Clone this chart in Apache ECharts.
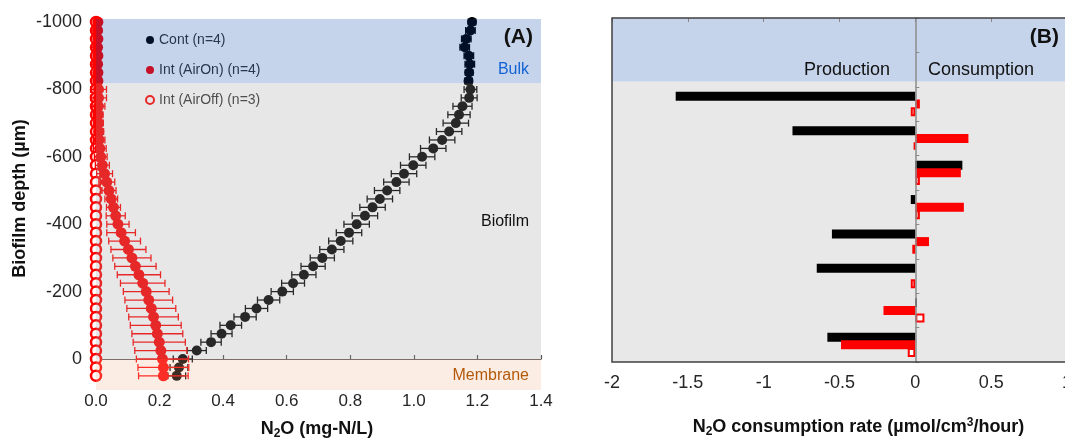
<!DOCTYPE html>
<html>
<head>
<meta charset="utf-8">
<script src="https://cdn.jsdelivr.net/npm/echarts@6/dist/echarts.min.js"></script>
<style>
html,body{margin:0;padding:0;background:#fff;}
#chart{width:1065px;height:439px;}
</style>
</head>
<body>
<div id="chart"></div>
<script>
// ---------- Panel A data ----------
const depths = [-1000,-975,-950,-925,-900,-875,-850,-825,-800,-775,-750,-725,-700,-675,-650,-625,-600,-575,-550,-525,-500,-475,-450,-425,-400,-375,-350,-325,-300,-275,-250,-225,-200,-175,-150,-125,-100,-75,-50,-25,0,25,50];
const contN2O = [1.183,1.178,1.165,1.160,1.173,1.176,1.174,1.172,1.178,1.174,1.153,1.142,1.132,1.111,1.089,1.061,1.026,0.998,0.969,0.945,0.916,0.893,0.870,0.846,0.820,0.796,0.770,0.742,0.712,0.683,0.654,0.620,0.586,0.543,0.505,0.469,0.424,0.395,0.362,0.317,0.273,0.261,0.254];
const contErr = [0.012,0.015,0.015,0.015,0.015,0.015,0.012,0.012,0.020,0.025,0.030,0.035,0.040,0.040,0.040,0.040,0.040,0.040,0.040,0.040,0.040,0.040,0.040,0.040,0.040,0.040,0.038,0.038,0.038,0.038,0.038,0.036,0.035,0.035,0.035,0.035,0.034,0.033,0.032,0.030,0.030,0.028,0.028];
const airOnN2O = [0.006,0.005,0.006,0.005,0.006,0.005,0.006,0.006,0.008,0.008,0.008,0.007,0.008,0.009,0.010,0.012,0.015,0.020,0.027,0.034,0.041,0.048,0.055,0.062,0.069,0.079,0.090,0.102,0.113,0.124,0.135,0.147,0.158,0.166,0.174,0.181,0.188,0.193,0.199,0.204,0.209,0.212,0.212];
const airOnErr = [0.004,0.004,0.004,0.004,0.004,0.004,0.004,0.004,0.025,0.025,0.020,0.015,0.015,0.015,0.018,0.020,0.020,0.022,0.025,0.025,0.022,0.020,0.022,0.030,0.035,0.045,0.050,0.055,0.060,0.065,0.068,0.070,0.072,0.075,0.077,0.078,0.080,0.080,0.082,0.082,0.082,0.080,0.078];
const airOffN2O = [0.000,0.000,0.000,0.000,0.000,0.000,0.000,0.000,0.000,0.000,0.000,0.000,0.000,0.000,0.000,0.000,0.000,0.000,0.000,0.000,0.000,0.000,0.000,0.000,0.000,0.000,0.000,0.000,0.000,0.000,0.000,0.000,0.000,0.000,0.000,0.000,0.000,0.000,0.000,0.000,0.000,0.000,0.000];
const depthTicks = [-1000,-800,-600,-400,-200,0];
const n2oTicks = [0,0.2,0.4,0.6,0.8,1.0,1.2,1.4];
// zone boundaries (depth, µm): bulk | biofilm | membrane
const zoneEdges = [-1009,-818,0,92];
const seriesNames = ['Cont (n=4)','Int (AirOn) (n=4)','Int (AirOff) (n=3)'];

// ---------- Panel B data ----------
const depthBins = ['-1000','-900','-800','-700','-600','-500','-400','-300','-200','-100'];
const contRate  = [null,null,-1.58,-0.81,0.31,-0.03,-0.55,-0.65,0.01,-0.58];
const airOnRate = [null,null,0.03,0.35,0.30,0.32,0.09,0.00,-0.21,-0.49];
const airOffRate= [null,null,-0.03,-0.01,0.03,0.03,-0.02,-0.03,0.06,-0.05];
const rateTicks = [-2,-1.5,-1,-0.5,0,0.5,1];
const zoneEdgesB = [-1000,-815,0];

const FONT = '"Liberation Sans", Arial, sans-serif';

function errData(vals, errs){ return vals.map((v,i)=>[v-errs[i], v+errs[i], depths[i]]); }
function errRender(color){
  return function(params, api){
    const a = api.coord([api.value(0), api.value(2)]);
    const b = api.coord([api.value(1), api.value(2)]);
    const h = 3.5;
    const st = {stroke: color, lineWidth: 1.3};
    return {type:'group', children:[
      {type:'line', shape:{x1:a[0],y1:a[1],x2:b[0],y2:b[1]}, style:st},
      {type:'line', shape:{x1:a[0],y1:a[1]-h,x2:a[0],y2:a[1]+h}, style:st},
      {type:'line', shape:{x1:b[0],y1:b[1]-h,x2:b[0],y2:b[1]+h}, style:st}
    ]};
  };
}
const overlayColors = ['rgba(3,68,164,0.23)','rgba(160,160,160,0.25)','rgba(243,183,147,0.25)'];
const zoneData = [[zoneEdges[0],zoneEdges[1],0],[zoneEdges[1],zoneEdges[2],1],[zoneEdges[2],zoneEdges[3],2]];
const bandColorsB = ['#c5d4ea','#e8e8e8'];
const zoneDataB = [[zoneEdgesB[0],zoneEdgesB[1],0],[zoneEdgesB[1],zoneEdgesB[2],1]];

const chart = echarts.init(document.getElementById('chart'), null, {renderer:'canvas'});
const option = {
  animation:false,
  textStyle:{fontFamily:FONT},
  grid:[
    {left:96, top:19, width:445, height:371, show:false, outerBoundsMode:'none', containLabel:false},
    {left:612, top:18, width:455, height:344, show:true, z:5, outerBoundsMode:'none', containLabel:false,
     backgroundColor:'transparent', borderColor:'#404040', borderWidth:1.5}
  ],
  legend:{
    orient:'vertical', left:140, top:28, itemWidth:8, itemHeight:8, itemGap:16, z:4,
    textStyle:{fontSize:14, color:'#333', fontFamily:FONT},
    data:[
      {name:seriesNames[0], icon:'circle', itemStyle:{color:'#000'}},
      {name:seriesNames[1], icon:'circle', itemStyle:{color:'#ff0000'}},
      {name:seriesNames[2], icon:'circle', itemStyle:{color:'#fff', borderColor:'#ff0000', borderWidth:2}}
    ]
  },
  xAxis:[
    {gridIndex:0, type:'value', min:0, max:1.4, interval:0.2, position:'bottom',
     axisLine:{show:false, onZero:false}, axisTick:{show:false}, splitLine:{show:false},
     axisLabel:{fontSize:17, color:'#262626', margin:3, fontFamily:FONT, formatter:v=>v.toFixed(1)}},
    {gridIndex:0, type:'value', min:0, max:1.4, interval:0.2, position:'top', z:1,
     axisLine:{show:true, onZero:true, lineStyle:{color:'#555', width:1.2}},
     axisTick:{show:true, inside:false, length:4, lineStyle:{color:'#555', width:1.2}},
     axisLabel:{show:false}, splitLine:{show:false}},
    {gridIndex:1, type:'value', min:-2, max:1, interval:0.5, position:'bottom',
     axisLine:{show:false, onZero:false}, axisTick:{show:false}, splitLine:{show:false},
     axisLabel:{fontSize:18, color:'#262626', margin:12, fontFamily:FONT, formatter:v=>String(v)}},
    {gridIndex:1, type:'value', min:-2, max:1, interval:0.5, position:'top',
     axisLine:{show:false, onZero:false}, axisTick:{show:true, inside:true, length:4, lineStyle:{color:'#888'}},
     axisLabel:{show:false}, splitLine:{show:false}}
  ],
  yAxis:[
    {gridIndex:0, type:'value', min:-1009, max:92, inverse:true,
     axisLine:{show:false, onZero:false}, splitLine:{show:false},
     axisTick:{show:true, length:4, customValues:depthTicks, lineStyle:{color:'#999'}},
     axisLabel:{fontSize:18, color:'#262626', margin:14, fontFamily:FONT, customValues:depthTicks, formatter:v=>String(v)}},
    {gridIndex:1, type:'category', data:depthBins, inverse:true, z:3,
     axisLine:{show:true, onZero:true, lineStyle:{color:'#8c8c8c', width:1.5}},
     axisTick:{show:true, inside:true, length:4, lineStyle:{color:'#8c8c8c'}},
     axisLabel:{show:false}, splitLine:{show:false}},
    {gridIndex:1, type:'value', min:-1000, max:0, inverse:true, show:false}
  ],
  series:[
    // Panel B background zones
    {type:'custom', name:'zonesB', xAxisIndex:2, yAxisIndex:2, z:0, silent:true,
     data:zoneDataB,
     renderItem:function(params, api){
       const p0 = api.coord([-2, api.value(0)]);
       const p1 = api.coord([1, api.value(1)]);
       return {type:'rect', shape:{x:p0[0], y:p0[1], width:p1[0]-p0[0], height:p1[1]-p0[1]},
               style:{fill:bandColorsB[api.value(2)]}};
     }},
    // Panel A: error bars + points
    {type:'custom', name:'contErr', xAxisIndex:0, yAxisIndex:0, z:2,
     data:errData(contN2O, contErr), renderItem:errRender('#000')},
    {type:'scatter', name:seriesNames[2], xAxisIndex:0, yAxisIndex:0, z:2, clip:false,
     symbol:'circle', symbolSize:10,
     itemStyle:{color:'#fff', borderColor:'#ff0000', borderWidth:2.5, opacity:1},
     data:airOffN2O.map((v,i)=>[v, depths[i]])},
    {type:'scatter', name:seriesNames[0], xAxisIndex:0, yAxisIndex:0, z:2,
     symbol:'circle', symbolSize:10, itemStyle:{color:'#000', opacity:1},
     data:contN2O.map((v,i)=>[v, depths[i]])},
    {type:'custom', name:'airOnErr', xAxisIndex:0, yAxisIndex:0, z:3,
     data:errData(airOnN2O, airOnErr), renderItem:errRender('#ff0000')},
    {type:'scatter', name:seriesNames[1], xAxisIndex:0, yAxisIndex:0, z:3, clip:false,
     symbol:'circle', symbolSize:11, itemStyle:{color:'#ff0000', opacity:1},
     data:airOnN2O.map((v,i)=>[v, depths[i]])},
    // Panel A zone overlays (translucent, over data)
    {type:'custom', name:'zonesA', xAxisIndex:0, yAxisIndex:0, z:10, silent:true,
     data:zoneData,
     renderItem:function(params, api){
       const p0 = api.coord([0, api.value(0)]);
       const p1 = api.coord([1.4, api.value(1)]);
       return {type:'rect', shape:{x:p0[0], y:p0[1], width:p1[0]-p0[0], height:p1[1]-p0[1]},
               style:{fill:overlayColors[api.value(2)]}};
     }},
    // Panel B bars
    {type:'bar', name:'Cont rate', xAxisIndex:2, yAxisIndex:1, barWidth:9, barGap:'-15%', z:2,
     itemStyle:{color:'#000'}, data:contRate},
    {type:'bar', name:'AirOn rate', xAxisIndex:2, yAxisIndex:1, barWidth:9, barGap:'-15%', z:2,
     itemStyle:{color:'#ff0000'}, data:airOnRate},
    {type:'bar', name:'AirOff rate', xAxisIndex:2, yAxisIndex:1, barWidth:9, barGap:'-15%', z:2,
     itemStyle:{color:'#fff', borderColor:'#ff0000', borderWidth:2}, data:airOffRate}
  ],
  graphic:[
    {type:'text', z:100, x:533, y:37.5, style:{text:'(A)', font:'bold 21px '+FONT, fill:'#111', align:'right', verticalAlign:'middle'}},
    {type:'text', z:100, x:529, y:70, style:{text:'Bulk', font:'16px '+FONT, fill:'#1463d6', align:'right', verticalAlign:'middle'}},
    {type:'text', z:100, x:529, y:222, style:{text:'Biofilm', font:'16px '+FONT, fill:'#111', align:'right', verticalAlign:'middle'}},
    {type:'text', z:100, x:529, y:376, style:{text:'Membrane', font:'16px '+FONT, fill:'#b35a0a', align:'right', verticalAlign:'middle'}},
    {type:'text', z:100, x:20, y:198.5, rotation:Math.PI/2, style:{text:'Biofilm depth (µm)', font:'bold 18px '+FONT, fill:'#111', align:'center', verticalAlign:'middle'}},
    {type:'text', z:100, x:317, y:429, style:{
      text:'{b|N}{s|2}{b|O (mg-N/L)}', align:'center', verticalAlign:'middle',
      rich:{b:{font:'bold 18px '+FONT, fill:'#111'}, s:{font:'bold 12px '+FONT, fill:'#111', padding:[9,0,0,0]}}}},
    {type:'text', z:100, x:1059, y:37, style:{text:'(B)', font:'bold 21px '+FONT, fill:'#111', align:'right', verticalAlign:'middle'}},
    {type:'text', z:100, x:890, y:70, style:{text:'Production', font:'18px '+FONT, fill:'#111', align:'right', verticalAlign:'middle'}},
    {type:'text', z:100, x:928, y:70, style:{text:'Consumption', font:'18px '+FONT, fill:'#111', align:'left', verticalAlign:'middle'}},
    {type:'text', z:100, x:858.5, y:427, style:{
      text:'{b|N}{s|2}{b|O consumption rate (µmol/cm}{p|3}{b|/hour)}', align:'center', verticalAlign:'middle',
      rich:{b:{font:'bold 18px '+FONT, fill:'#111'}, s:{font:'bold 12px '+FONT, fill:'#111', padding:[9,0,0,0]},
            p:{font:'bold 12px '+FONT, fill:'#111', padding:[0,0,8,0]}}}}
  ]
};
chart.setOption(option);
</script>
</body>
</html>
